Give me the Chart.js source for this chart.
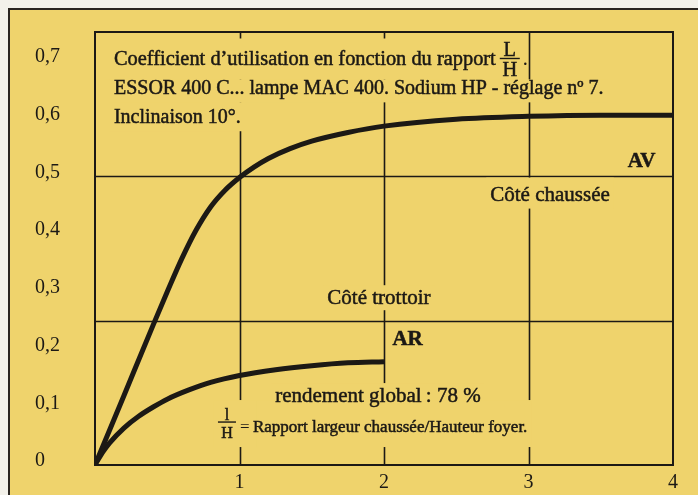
<!DOCTYPE html>
<html>
<head>
<meta charset="utf-8">
<script src="https://cdn.jsdelivr.net/npm/chart.js@4.4.1/dist/chart.umd.min.js"></script>
<style>
  html, body { margin: 0; padding: 0; background: #f3f1ea; }
  canvas { display: block; }
</style>
</head>
<body>
<canvas id="coefChart" width="698" height="495"></canvas>
<script>
// Axis ticks
const xTickValues = [1, 2, 3, 4];
const xTickLabels = ["1", "2", "3", "4"];
const yTickValues = [0, 0.1, 0.2, 0.3, 0.4, 0.5, 0.6, 0.7];
const yTickLabels = ["0", "0,1", "0,2", "0,3", "0,4", "0,5", "0,6", "0,7"];

// Reference lines drawn inside the box
const gridX = [1, 2, 3];
const gridY = [0.25, 0.5];

// AV curve (Côté chaussée)
const avX = [0, 0.2, 0.4, 0.5, 0.6, 0.7, 0.8, 0.9, 1.0, 1.1, 1.2, 1.35, 1.5, 1.75, 2.0, 2.5, 3.0, 3.5, 4.0];
const avY = [0, 0.12, 0.241, 0.3, 0.357, 0.407, 0.447, 0.476, 0.498, 0.516, 0.531, 0.548, 0.561, 0.576, 0.587, 0.599, 0.604, 0.606, 0.606];

// AR curve (Côté trottoir)
const arX = [0, 0.05, 0.1, 0.2, 0.3, 0.4, 0.5, 0.65, 0.8, 1.0, 1.25, 1.5, 1.75, 2.0];
const arY = [0, 0.021, 0.038, 0.064, 0.084, 0.1, 0.114, 0.13, 0.143, 0.155, 0.165, 0.172, 0.177, 0.179];

// Texts
const titleLines = [
    "Coefficient d\u2019utilisation en fonction du rapport",
    "ESSOR 400 C... lampe MAC 400. Sodium HP - r\u00e9glage n\u00ba 7.",
    "Inclinaison 10\u00b0."
];
const noteText = "Rapport largeur chauss\u00e9e/Hauteur foyer.";

const INK = "#1c1915";
const BG = "#efd36c";
const SERIF = "'Liberation Serif', 'DejaVu Serif', serif";

// Draws the paper, the frame, reference lines and all texts
const paperPlugin = {
    id: "paper",
    beforeDraw(chart) {
        const c = chart.ctx;
        c.save();
        c.fillStyle = "#f3f1ea";
        c.fillRect(0, 0, chart.width, chart.height);
        c.fillStyle = BG;
        c.fillRect(9, 9, chart.width, chart.height);
        c.strokeStyle = "#2a2520";
        c.lineWidth = 2;
        c.strokeRect(9, 9, chart.width + 20, chart.height + 20);
        c.restore();
    },
    beforeDatasetsDraw(chart) {
        const c = chart.ctx;
        const xs = chart.scales.x, ys = chart.scales.y, a = chart.chartArea;
        const X = v => xs.getPixelForValue(v);
        const Y = v => ys.getPixelForValue(v);
        c.save();

        //reference lines
        c.strokeStyle = INK;
        c.lineWidth = 1.6;
        c.beginPath();
        gridX.forEach(v => { const p = Math.round(X(v)) + 0.5; c.moveTo(p, a.top); c.lineTo(p, a.bottom); });
        gridY.forEach(v => { const p = Math.round(Y(v)) + 0.5; c.moveTo(a.left, p); c.lineTo(a.right, p); });
        c.stroke();

        //text items: {text, x, y, font, align, up, down, pad}
        const items = [];
        const add = (text, x, y, font, align, up, down, pad) => {
            c.font = font;
            const w = c.measureText(text).width;
            const left = align === "center" ? x - w / 2 : x;
            items.push({ text, left, y, w, font, up, down, pad });
            return left + w;
        };

        const titleFont = "20.4px " + SERIF;
        const end1 = add(titleLines[0], X(0.131), Y(0.692), titleFont, "left", 27, 14, 8);
        add(titleLines[1], X(0.131), Y(0.642), "20px " + SERIF, "left", 15, 8, 4);
        add(titleLines[2], X(0.131), Y(0.592), "20px " + SERIF, "left", 21, 8, 4);

        const bigFont = "21px " + SERIF;
        add("C\u00f4t\u00e9 chauss\u00e9e", X(3.149), Y(0.458), bigFont, "center", 23, 8, 4);
        add("C\u00f4t\u00e9 trottoir", X(1.965), Y(0.2785), bigFont, "center", 19, 6, 4);
        add("rendement global\u2009: 78 %", X(1.958), Y(0.109), bigFont, "center", 19, 10, 4);

        const boldFont = "bold 21px " + SERIF;
        add("AV", X(3.782), Y(0.517), boldFont, "center", 0, 0, 0);
        add("AR", X(2.163), Y(0.2076), boldFont, "center", 0, 0, 0);

        const noteFont = "17px " + SERIF;
        const noteY = Y(0.0571);
        const fracLeft = X(0.851);
        add(noteText, X(1.093), noteY, noteFont, "left", 32, 15, 4);

        //masks behind texts hide the reference lines
        c.fillStyle = BG;
        items.forEach(it => {
            if (it.up || it.down) c.fillRect(it.left - it.pad, it.y - it.up, it.w + 2 * it.pad, it.up + it.down);
        });
        c.fillRect(fracLeft - 4, noteY - 32, X(1.093) - fracLeft + 8, 47);

        c.fillStyle = INK;
        c.strokeStyle = INK;
        c.lineWidth = 0.5;
        c.textAlign = "left";
        c.textBaseline = "alphabetic";
        items.forEach(it => {
            c.font = it.font;
            c.fillText(it.text, it.left, it.y);
            c.strokeText(it.text, it.left, it.y);
        });

        //fraction L/H in the title
        const drawFraction = (num, den, left, width, barY, font, capH) => {
            c.font = font;
            c.textAlign = "center";
            c.fillText(num, left + width / 2, barY - 2);
            c.strokeText(num, left + width / 2, barY - 2);
            c.fillText(den, left + width / 2, barY + capH + 5);
            c.strokeText(den, left + width / 2, barY + capH + 5);
            c.fillRect(left, barY - 0.7, width, 1.4);
            c.textAlign = "left";
        };
        const barY1 = Y(0.692) - 7;
        drawFraction("L", "H", end1 + 4, 20, barY1, titleFont, 13);
        c.font = titleFont;
        c.fillText(".", end1 + 27, Y(0.692));

        //fraction l/H of the note
        drawFraction("l", "H", fracLeft, 18, Y(0.0744), "16px " + SERIF, 11);
        c.font = noteFont;
        c.fillText("=", fracLeft + 22, noteY);

        //box
        c.strokeStyle = INK;
        c.lineWidth = 2;
        c.strokeRect(a.left, a.top, a.right - a.left, a.bottom - a.top);
        c.restore();
    }
};

const chartData = {
    datasets: [
        {
            label: "AV",
            data: avX.map((x, i) => ({ x: x, y: avY[i] })),
            borderColor: INK,
            borderWidth: 5,
            pointRadius: 0,
            cubicInterpolationMode: "monotone",
            borderCapStyle: "butt",
            fill: false
        },
        {
            label: "AR",
            data: arX.map((x, i) => ({ x: x, y: arY[i] })),
            borderColor: INK,
            borderWidth: 5,
            pointRadius: 0,
            cubicInterpolationMode: "monotone",
            borderCapStyle: "butt",
            fill: false
        }
    ]
};

const chartOptions = {
    responsive: false,
    devicePixelRatio: 1,
    animation: false,
    layout: { padding: { left: 35, top: 32, right: 25, bottom: 0 } },
    plugins: {
        legend: { display: false },
        tooltip: { enabled: false }
    },
    scales: {
        x: {
            type: "linear",
            min: 0,
            max: 4,
            grid: { display: false, drawTicks: false },
            border: { display: false },
            afterBuildTicks: scale => { scale.ticks = xTickValues.map(v => ({ value: v })); },
            afterFit: scale => { scale.height = 30; },
            ticks: {
                color: INK,
                padding: 6,
                maxRotation: 0,
                font: { family: SERIF, size: 20 },
                callback: (value, index) => xTickLabels[index]
            }
        },
        y: {
            type: "linear",
            min: 0,
            max: 0.75,
            grid: { display: false, drawTicks: false },
            border: { display: false },
            afterBuildTicks: scale => { scale.ticks = yTickValues.map(v => ({ value: v })); },
            afterFit: scale => { scale.width = 60; },
            ticks: {
                color: INK,
                crossAlign: "far",
                labelOffset: -4,
                font: { family: SERIF, size: 20 },
                callback: (value, index) => yTickLabels[index]
            }
        }
    }
};

const ctx = document.getElementById("coefChart").getContext("2d");
new Chart(ctx, {
    type: "line",
    data: chartData,
    options: chartOptions,
    plugins: [paperPlugin]
});
</script>
</body>
</html>
